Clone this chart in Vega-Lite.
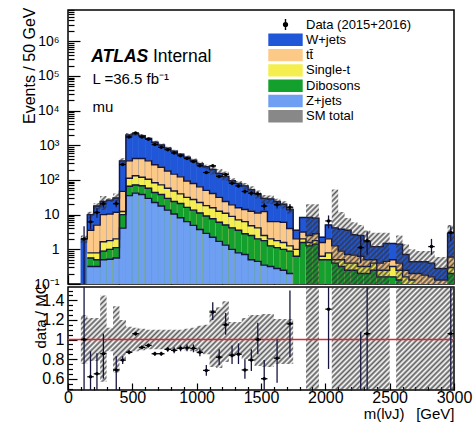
{
"$schema": "https://vega.github.io/schema/vega-lite/v6.json",
"padding": {"left": 20, "top": 2, "right": 2, "bottom": 2},
"bounds": "flush",
"spacing": 3,
"config": {
 "font": "Liberation Sans",
 "view": {"stroke": "#000", "strokeWidth": 1.5},
 "axis": {"grid": false, "domain": false, "labelFont": "Liberation Sans", "labelColor": "#000", "tickColor": "#000", "tickWidth": 1.2, "titleFont": "Liberation Sans", "titleFontWeight": "normal", "titleColor": "#000", "labelOverlap": false, "zindex": 1},
 "area": {"fill": {"gradient": "linear", "x1": 0, "y1": 0, "x2": 1.207, "y2": 0.492, "stops": [
{"offset":0,"color":"#333c"},{"offset":0.005,"color":"#3330"},{"offset":0.01,"color":"#333c"},{"offset":0.015,"color":"#3330"},{"offset":0.02,"color":"#333c"},{"offset":0.025,"color":"#3330"},{"offset":0.03,"color":"#333c"},{"offset":0.035,"color":"#3330"},{"offset":0.04,"color":"#333c"},{"offset":0.045,"color":"#3330"},
{"offset":0.05,"color":"#333c"},{"offset":0.055,"color":"#3330"},{"offset":0.06,"color":"#333c"},{"offset":0.065,"color":"#3330"},{"offset":0.07,"color":"#333c"},{"offset":0.075,"color":"#3330"},{"offset":0.08,"color":"#333c"},{"offset":0.085,"color":"#3330"},{"offset":0.09,"color":"#333c"},{"offset":0.095,"color":"#3330"},
{"offset":0.1,"color":"#333c"},{"offset":0.105,"color":"#3330"},{"offset":0.11,"color":"#333c"},{"offset":0.115,"color":"#3330"},{"offset":0.12,"color":"#333c"},{"offset":0.125,"color":"#3330"},{"offset":0.13,"color":"#333c"},{"offset":0.135,"color":"#3330"},{"offset":0.14,"color":"#333c"},{"offset":0.145,"color":"#3330"},
{"offset":0.15,"color":"#333c"},{"offset":0.155,"color":"#3330"},{"offset":0.16,"color":"#333c"},{"offset":0.165,"color":"#3330"},{"offset":0.17,"color":"#333c"},{"offset":0.175,"color":"#3330"},{"offset":0.18,"color":"#333c"},{"offset":0.185,"color":"#3330"},{"offset":0.19,"color":"#333c"},{"offset":0.195,"color":"#3330"},
{"offset":0.2,"color":"#333c"},{"offset":0.205,"color":"#3330"},{"offset":0.21,"color":"#333c"},{"offset":0.215,"color":"#3330"},{"offset":0.22,"color":"#333c"},{"offset":0.225,"color":"#3330"},{"offset":0.23,"color":"#333c"},{"offset":0.235,"color":"#3330"},{"offset":0.24,"color":"#333c"},{"offset":0.245,"color":"#3330"},
{"offset":0.25,"color":"#333c"},{"offset":0.255,"color":"#3330"},{"offset":0.26,"color":"#333c"},{"offset":0.265,"color":"#3330"},{"offset":0.27,"color":"#333c"},{"offset":0.275,"color":"#3330"},{"offset":0.28,"color":"#333c"},{"offset":0.285,"color":"#3330"},{"offset":0.29,"color":"#333c"},{"offset":0.295,"color":"#3330"},
{"offset":0.3,"color":"#333c"},{"offset":0.305,"color":"#3330"},{"offset":0.31,"color":"#333c"},{"offset":0.315,"color":"#3330"},{"offset":0.32,"color":"#333c"},{"offset":0.325,"color":"#3330"},{"offset":0.33,"color":"#333c"},{"offset":0.335,"color":"#3330"},{"offset":0.34,"color":"#333c"},{"offset":0.345,"color":"#3330"},
{"offset":0.35,"color":"#333c"},{"offset":0.355,"color":"#3330"},{"offset":0.36,"color":"#333c"},{"offset":0.365,"color":"#3330"},{"offset":0.37,"color":"#333c"},{"offset":0.375,"color":"#3330"},{"offset":0.38,"color":"#333c"},{"offset":0.385,"color":"#3330"},{"offset":0.39,"color":"#333c"},{"offset":0.395,"color":"#3330"},
{"offset":0.4,"color":"#333c"},{"offset":0.405,"color":"#3330"},{"offset":0.41,"color":"#333c"},{"offset":0.415,"color":"#3330"},{"offset":0.42,"color":"#333c"},{"offset":0.425,"color":"#3330"},{"offset":0.43,"color":"#333c"},{"offset":0.435,"color":"#3330"},{"offset":0.44,"color":"#333c"},{"offset":0.445,"color":"#3330"},
{"offset":0.45,"color":"#333c"},{"offset":0.455,"color":"#3330"},{"offset":0.46,"color":"#333c"},{"offset":0.465,"color":"#3330"},{"offset":0.47,"color":"#333c"},{"offset":0.475,"color":"#3330"},{"offset":0.48,"color":"#333c"},{"offset":0.485,"color":"#3330"},{"offset":0.49,"color":"#333c"},{"offset":0.495,"color":"#3330"},
{"offset":0.5,"color":"#333c"},{"offset":0.505,"color":"#3330"},{"offset":0.51,"color":"#333c"},{"offset":0.515,"color":"#3330"},{"offset":0.52,"color":"#333c"},{"offset":0.525,"color":"#3330"},{"offset":0.53,"color":"#333c"},{"offset":0.535,"color":"#3330"},{"offset":0.54,"color":"#333c"},{"offset":0.545,"color":"#3330"},
{"offset":0.55,"color":"#333c"},{"offset":0.555,"color":"#3330"},{"offset":0.56,"color":"#333c"},{"offset":0.565,"color":"#3330"},{"offset":0.57,"color":"#333c"},{"offset":0.575,"color":"#3330"},{"offset":0.58,"color":"#333c"},{"offset":0.585,"color":"#3330"},{"offset":0.59,"color":"#333c"},{"offset":0.595,"color":"#3330"},
{"offset":0.6,"color":"#333c"},{"offset":0.605,"color":"#3330"},{"offset":0.61,"color":"#333c"},{"offset":0.615,"color":"#3330"},{"offset":0.62,"color":"#333c"},{"offset":0.625,"color":"#3330"},{"offset":0.63,"color":"#333c"},{"offset":0.635,"color":"#3330"},{"offset":0.64,"color":"#333c"},{"offset":0.645,"color":"#3330"},
{"offset":0.65,"color":"#333c"},{"offset":0.655,"color":"#3330"},{"offset":0.66,"color":"#333c"},{"offset":0.665,"color":"#3330"},{"offset":0.67,"color":"#333c"},{"offset":0.675,"color":"#3330"},{"offset":0.68,"color":"#333c"},{"offset":0.685,"color":"#3330"},{"offset":0.69,"color":"#333c"},{"offset":0.695,"color":"#3330"},
{"offset":0.7,"color":"#333c"},{"offset":0.705,"color":"#3330"},{"offset":0.71,"color":"#333c"},{"offset":0.715,"color":"#3330"},{"offset":0.72,"color":"#333c"},{"offset":0.725,"color":"#3330"},{"offset":0.73,"color":"#333c"},{"offset":0.735,"color":"#3330"},{"offset":0.74,"color":"#333c"},{"offset":0.745,"color":"#3330"},
{"offset":0.75,"color":"#333c"},{"offset":0.755,"color":"#3330"},{"offset":0.76,"color":"#333c"},{"offset":0.765,"color":"#3330"},{"offset":0.77,"color":"#333c"},{"offset":0.775,"color":"#3330"},{"offset":0.78,"color":"#333c"},{"offset":0.785,"color":"#3330"},{"offset":0.79,"color":"#333c"},{"offset":0.795,"color":"#3330"},
{"offset":0.8,"color":"#333c"},{"offset":0.805,"color":"#3330"},{"offset":0.81,"color":"#333c"},{"offset":0.815,"color":"#3330"},{"offset":0.82,"color":"#333c"},{"offset":0.825,"color":"#3330"},{"offset":0.83,"color":"#333c"},{"offset":0.835,"color":"#3330"},{"offset":0.84,"color":"#333c"},{"offset":0.845,"color":"#3330"},
{"offset":0.85,"color":"#333c"},{"offset":0.855,"color":"#3330"},{"offset":0.86,"color":"#333c"},{"offset":0.865,"color":"#3330"},{"offset":0.87,"color":"#333c"},{"offset":0.875,"color":"#3330"},{"offset":0.88,"color":"#333c"},{"offset":0.885,"color":"#3330"},{"offset":0.89,"color":"#333c"},{"offset":0.895,"color":"#3330"},
{"offset":0.9,"color":"#333c"},{"offset":0.905,"color":"#3330"},{"offset":0.91,"color":"#333c"},{"offset":0.915,"color":"#3330"},{"offset":0.92,"color":"#333c"},{"offset":0.925,"color":"#3330"},{"offset":0.93,"color":"#333c"},{"offset":0.935,"color":"#3330"},{"offset":0.94,"color":"#333c"},{"offset":0.945,"color":"#3330"},
{"offset":0.95,"color":"#333c"},{"offset":0.955,"color":"#3330"},{"offset":0.96,"color":"#333c"},{"offset":0.965,"color":"#3330"},{"offset":0.97,"color":"#333c"},{"offset":0.975,"color":"#3330"},{"offset":0.98,"color":"#333c"},{"offset":0.985,"color":"#3330"},{"offset":0.99,"color":"#333c"},{"offset":0.995,"color":"#3330"},
{"offset":1,"color":"#333c"}]}}
},
"datasets": {"bins": [
{"x0":100,"x1":150,"m":125,"W":2,"ul":1.5,"uh":2.5,"bl":0.75,"bh":1.25,"d":2,"dl":0.1,"dh":4.6,"r":1,"rl":0.3,"rh":2},
{"x0":150,"x1":200,"m":175,"W":10,"T":3.55,"S":0.79,"D":0.56,"Z":0.32,"ul":7.8,"uh":12.2,"bl":0.78,"bh":1.22,"d":6.2,"dl":3.8,"dh":9.7,"r":0.62,"rl":0.3,"rh":0.88},
{"x0":200,"x1":250,"m":225,"W":17.8,"T":5,"S":0.79,"D":0.5,"Z":0.32,"ul":13.9,"uh":21.7,"bl":0.78,"bh":1.22,"d":11.6,"dl":8.2,"dh":15.5,"r":0.65,"rl":0.3,"rh":0.86},
{"x0":250,"x1":300,"m":275,"W":24,"T":10,"S":1.66,"D":0.89,"Z":0.5,"ul":13.7,"uh":34.8,"bl":0.57,"bh":1.45,"d":20.5,"dl":16,"dh":25.5,"r":0.855,"rl":0.6,"rh":1.06},
{"x0":300,"x1":350,"m":325,"W":26.3,"T":10.5,"S":1.78,"D":1,"Z":0.52,"ul":23.1,"uh":29.5,"bl":0.88,"bh":1.12},
{"x0":350,"x1":400,"m":375,"W":30.2,"T":11.7,"S":2,"D":1.12,"Z":0.56,"ul":19.9,"uh":40.5,"bl":0.66,"bh":1.34,"d":20.8,"dl":16.4,"dh":26,"r":0.69,"rl":0.3,"rh":0.83},
{"x0":400,"x1":450,"m":425,"W":355,"T":46.8,"S":12.3,"D":10,"Z":4.1,"ul":284,"uh":426,"bl":0.8,"bh":1.2,"d":280,"dl":263,"dh":297,"r":0.79,"rl":0.75,"rh":0.83},
{"x0":450,"x1":500,"m":475,"W":2000,"T":355,"S":112,"D":66,"Z":35.5,"ul":1740,"uh":2260,"bl":0.87,"bh":1.13,"d":1740,"dl":1698,"dh":1782,"r":0.87,"rl":0.85,"rh":0.89},
{"x0":500,"x1":550,"m":525,"W":2140,"T":417,"S":132,"D":72,"Z":41.7,"ul":1883,"uh":2397,"bl":0.88,"bh":1.12,"d":2268,"dl":2220,"dh":2316,"r":1.06,"rl":1.04,"rh":1.08},
{"x0":550,"x1":600,"m":575,"W":1900,"T":417,"S":120,"D":68,"Z":38,"ul":1691,"uh":2109,"bl":0.89,"bh":1.11,"d":1748,"dl":1706,"dh":1790,"r":0.92,"rl":0.9,"rh":0.94},
{"x0":600,"x1":650,"m":625,"W":1585,"T":355,"S":105,"D":57.5,"Z":29.5,"ul":1427,"uh":1744,"bl":0.9,"bh":1.1,"d":1490,"dl":1451,"dh":1529,"r":0.94,"rl":0.92,"rh":0.96},
{"x0":650,"x1":700,"m":675,"W":1230,"T":275,"S":83.2,"D":43.7,"Z":22.4,"ul":1107,"uh":1353,"bl":0.9,"bh":1.1,"d":1052,"dl":1020,"dh":1084,"r":0.855,"rl":0.835,"rh":0.875},
{"x0":700,"x1":750,"m":725,"W":1023,"T":234,"S":72.4,"D":38,"Z":17.8,"ul":921,"uh":1125,"bl":0.9,"bh":1.1,"d":875,"dl":845,"dh":905,"r":0.855,"rl":0.835,"rh":0.875},
{"x0":750,"x1":800,"m":775,"W":832,"T":182,"S":57.5,"D":29.5,"Z":13.5,"ul":749,"uh":915,"bl":0.9,"bh":1.1,"d":749,"dl":722,"dh":776,"r":0.9,"rl":0.875,"rh":0.925},
{"x0":800,"x1":850,"m":825,"W":676,"T":148,"S":47.9,"D":24,"Z":10.5,"ul":608,"uh":744,"bl":0.9,"bh":1.1,"d":602,"dl":577,"dh":627,"r":0.89,"rl":0.86,"rh":0.92},
{"x0":850,"x1":900,"m":875,"W":550,"T":123,"S":39.8,"D":20.9,"Z":8.13,"ul":495,"uh":605,"bl":0.9,"bh":1.1,"d":500,"dl":478,"dh":522,"r":0.91,"rl":0.88,"rh":0.94},
{"x0":900,"x1":950,"m":925,"W":457,"T":93.3,"S":31.6,"D":16.2,"Z":6.31,"ul":407,"uh":507,"bl":0.89,"bh":1.11,"d":418,"dl":398,"dh":438,"r":0.915,"rl":0.88,"rh":0.95},
{"x0":950,"x1":1000,"m":975,"W":372,"T":79.4,"S":27.5,"D":13.5,"Z":4.9,"ul":327,"uh":417,"bl":0.88,"bh":1.12,"d":339,"dl":321,"dh":357,"r":0.91,"rl":0.87,"rh":0.95},
{"x0":1000,"x1":1050,"m":1025,"W":295,"T":63.1,"S":22.4,"D":11.2,"Z":3.72,"ul":254,"uh":336,"bl":0.86,"bh":1.14,"d":257,"dl":241,"dh":273,"r":0.87,"rl":0.83,"rh":0.91},
{"x0":1050,"x1":1100,"m":1075,"W":240,"T":50.1,"S":18.2,"D":9.12,"Z":2.88,"ul":204,"uh":276,"bl":0.85,"bh":1.15,"d":164,"dl":151,"dh":177,"r":0.685,"rl":0.63,"rh":0.74},
{"x0":1100,"x1":1150,"m":1125,"W":200,"T":40.7,"S":15.8,"D":7.59,"Z":2.24,"ul":144,"uh":260,"bl":0.72,"bh":1.3,"d":256,"dl":240,"dh":272,"r":1.28,"rl":1.2,"rh":1.38},
{"x0":1150,"x1":1200,"m":1175,"W":155,"T":31.6,"S":12.6,"D":6.03,"Z":1.7,"ul":110,"uh":206,"bl":0.71,"bh":1.33,"d":127,"dl":116,"dh":138,"r":0.82,"rl":0.74,"rh":0.9},
{"x0":1200,"x1":1250,"m":1225,"W":126,"T":24,"S":11,"D":5.01,"Z":1.32,"ul":97,"uh":175,"bl":0.77,"bh":1.39,"d":145,"dl":133,"dh":157,"r":1.15,"rl":1.05,"rh":1.27},
{"x0":1250,"x1":1300,"m":1275,"W":95.5,"T":19.1,"S":8.91,"D":4.17,"Z":1,"ul":78.3,"uh":112.7,"bl":0.82,"bh":1.18,"d":80,"dl":71,"dh":89,"r":0.84,"rl":0.75,"rh":0.94},
{"x0":1300,"x1":1350,"m":1325,"W":79.4,"T":15.8,"S":7.08,"D":3.55,"Z":0.79,"ul":66.7,"uh":93.7,"bl":0.84,"bh":1.18,"d":67.5,"dl":59.5,"dh":75.5,"r":0.85,"rl":0.75,"rh":0.96},
{"x0":1350,"x1":1400,"m":1375,"W":67.6,"T":14.1,"S":6.31,"D":2.82,"Z":0.71,"ul":54.1,"uh":82.5,"bl":0.8,"bh":1.22,"d":46.6,"dl":39.8,"dh":53.4,"r":0.69,"rl":0.6,"rh":0.8},
{"x0":1400,"x1":1450,"m":1425,"W":52.5,"T":12.6,"S":4.79,"D":2.51,"Z":0.5,"ul":41.5,"uh":65.6,"bl":0.79,"bh":1.25,"d":41.5,"dl":35.1,"dh":47.9,"r":0.79,"rl":0.68,"rh":0.9},
{"x0":1450,"x1":1500,"m":1475,"W":39.8,"T":11.2,"S":4.17,"D":2,"Z":0.45,"ul":29.1,"uh":49.8,"bl":0.73,"bh":1.25,"d":39.8,"dl":33.5,"dh":46.1,"r":1,"rl":0.85,"rh":1.17},
{"x0":1500,"x1":1550,"m":1525,"W":29.5,"T":12.3,"S":2.51,"D":1.78,"Z":0.35,"ul":21.2,"uh":37.2,"bl":0.72,"bh":1.26,"d":17.7,"dl":13.5,"dh":21.9,"r":0.6,"rl":0.4,"rh":0.79},
{"x0":1550,"x1":1600,"m":1575,"W":28.2,"T":6.31,"S":2,"D":1.26,"Z":0.32,"ul":20.3,"uh":35.5,"bl":0.72,"bh":1.26},
{"x0":1600,"x1":1650,"m":1625,"W":24,"T":6.31,"S":1.78,"D":1.12,"Z":0.28,"ul":18,"uh":29,"bl":0.75,"bh":1.21,"d":19.4,"dl":15,"dh":23.8,"r":0.81,"rl":0.56,"rh":1},
{"x0":1650,"x1":1700,"m":1675,"W":20,"T":6.03,"S":1.58,"D":1,"Z":0.25,"ul":15,"uh":24.2,"bl":0.75,"bh":1.21},
{"x0":1700,"x1":1750,"m":1725,"W":14.1,"T":3.98,"S":1.26,"D":0.89,"Z":0.2,"ul":10.6,"uh":17.1,"bl":0.75,"bh":1.21,"d":16.4,"dl":12.4,"dh":20.4,"r":1.16,"rl":0.82,"rh":1.5},
{"x0":1750,"x1":1800,"m":1775,"W":3.55,"T":2,"S":1,"D":0.63},
{"x0":1800,"x1":1850,"m":1825,"W":8.32,"T":3.16,"S":2,"D":1.58},
{"x0":1850,"x1":1900,"m":1875,"W":8.32,"T":2.51,"S":1.58,"D":1.26,"ul":0.1,"uh":20,"bl":0.25,"bh":1.8},
{"x0":1900,"x1":1950,"m":1925,"W":7.94,"T":2.82,"S":1.78,"D":1.41,"ul":0.1,"uh":20,"bl":0.25,"bh":1.8},
{"x0":1950,"x1":2000,"m":1975,"W":2.24,"T":1.58,"S":0.63,"D":0.5},
{"x0":2000,"x1":2050,"m":2025,"W":5.01,"T":2,"S":0.79,"D":0.5,"d":6.6,"dl":4,"dh":9.5,"r":1.31,"rl":0.7,"rh":1.6},
{"x0":2050,"x1":2100,"m":2075,"W":4.17,"T":1.26,"S":0.5,"D":0.4,"ul":0.1,"uh":53,"bl":0.25,"bh":1.8},
{"x0":2100,"x1":2150,"m":2125,"W":3.8,"T":0.89,"S":0.5,"D":0.32,"ul":0.1,"uh":12,"bl":0.25,"bh":1.8},
{"x0":2150,"x1":2200,"m":2175,"W":3.55,"T":0.71,"S":0.4,"D":0.25,"ul":0.1,"uh":8,"bl":0.25,"bh":1.8},
{"x0":2200,"x1":2250,"m":2225,"W":2.63,"T":0.68,"S":0.4,"D":0.25,"ul":0.1,"uh":6,"bl":0.25,"bh":1.8},
{"x0":2250,"x1":2300,"m":2275,"W":2.51,"T":0.63,"S":0.32,"D":0.2,"ul":0.1,"uh":5,"bl":0.25,"bh":1.8,"d":1.13,"dl":0.4,"dh":2.5,"r":0.45,"rl":0.2,"rh":1.08},
{"x0":2300,"x1":2350,"m":2325,"W":1.66,"T":0.5,"S":0.32,"D":0.2,"ul":0.1,"uh":3.5,"bl":0.25,"bh":1.8,"d":1.76,"dl":0.7,"dh":3.3,"r":1.06,"rl":0.2,"rh":2},
{"x0":2350,"x1":2400,"m":2375,"W":1.2,"T":0.5,"S":0.4,"D":0.25,"ul":0.1,"uh":3,"bl":0.25,"bh":1.8},
{"x0":2400,"x1":2450,"m":2425,"W":1.2,"T":0.4,"S":0.25,"D":0.16,"ul":0.1,"uh":3,"bl":0.25,"bh":1.8},
{"x0":2450,"x1":2500,"m":2475,"W":1.48,"T":0.45,"S":0.25,"D":0.16,"ul":0.1,"uh":3,"bl":0.25,"bh":1.8},
{"x0":2500,"x1":2550,"m":2525,"W":1.48,"T":0.5,"S":0.32,"D":0.16},
{"x0":2550,"x1":2600,"m":2575,"W":1.41,"T":0.4,"S":0.25,"D":0.13,"ul":0.1,"uh":2.5,"bl":0.25,"bh":1.8},
{"x0":2600,"x1":2650,"m":2625,"W":0.71,"T":0.25,"S":0.16,"ul":0.1,"uh":1.4,"bl":0.25,"bh":1.8},
{"x0":2650,"x1":2700,"m":2675,"W":0.44,"T":0.2,"S":0.13,"ul":0.1,"uh":1,"bl":0.25,"bh":1.8},
{"x0":2700,"x1":2750,"m":2725,"W":0.44,"T":0.2,"ul":0.1,"uh":0.9,"bl":0.25,"bh":1.8},
{"x0":2750,"x1":2800,"m":2775,"W":0.44,"T":0.18,"ul":0.1,"uh":0.9,"bl":0.25,"bh":1.8},
{"x0":2800,"x1":2850,"m":2825,"W":0.4,"T":0.16,"ul":0.1,"uh":0.9,"bl":0.25,"bh":1.8,"d":1.2,"dl":0.7,"dh":2},
{"x0":2850,"x1":2900,"m":2875,"W":0.28,"T":0.13,"ul":0.1,"uh":0.6,"bl":0.25,"bh":1.8},
{"x0":2900,"x1":2950,"m":2925,"W":0.28,"T":0.13,"ul":0.1,"uh":0.6,"bl":0.25,"bh":1.8},
{"x0":2950,"x1":3000,"m":2975,"W":2.88,"T":0.6,"S":0.3,"D":0.2,"ul":0.1,"uh":5,"bl":0.25,"bh":1.8,"d":3.05,"dl":1.7,"dh":4.6,"r":1.06,"rl":0.2,"rh":2}
]},
"vconcat": [
{
 "width": 386, "height": 274,
 "layer": [
  {
   "data": {"name": "bins"},
   "transform": [{"fold": ["W","T","S","D","Z"], "as": ["proc","top"]}],
   "mark": {"type": "bar", "clip": true, "strokeWidth": 0.6},
   "encoding": {
    "x": {"field": "x0", "type": "quantitative", "scale": {"domain": [0,3000], "nice": false, "zero": false},
     "axis": {"title": null, "labels": false, "values": [0,100,200,300,400,500,600,700,800,900,1000,1100,1200,1300,1400,1500,1600,1700,1800,1900,2000,2100,2200,2300,2400,2500,2600,2700,2800,2900,3000],
      "tickSize": {"condition": {"test": "datum.value % 500 === 0", "value": -9}, "value": -4.5}}},
    "x2": {"field": "x1"},
    "y": {"field": "top", "type": "quantitative", "stack": null, "scale": {"type": "log", "domain": [0.1, 8000000], "nice": false},
     "axis": {"title": "Events / 50 GeV", "labelFontSize": 14, "titleFontSize": 16, "labelOverlap": false,
      "values": [0.1,0.2,0.3,0.4,0.5,0.6,0.7,0.8,0.9,1,2,3,4,5,6,7,8,9,10,20,30,40,50,60,70,80,90,100,200,300,400,500,600,700,800,900,1000,2000,3000,4000,5000,6000,7000,8000,9000,10000,20000,30000,40000,50000,60000,70000,80000,90000,100000,200000,300000,400000,500000,600000,700000,800000,900000,1000000,2000000,3000000,4000000,5000000,6000000,7000000,8000000],
      "labelExpr": "datum.value === 0.1 ? '10⁻¹' : datum.value === 1 ? '1' : datum.value === 10 ? '10' : datum.value === 100 ? '10²' : datum.value === 1000 ? '10³' : datum.value === 10000 ? '10⁴' : datum.value === 100000 ? '10⁵' : datum.value === 1000000 ? '10⁶' : ''",
      "tickSize": {"condition": {"test": "indexof([0.1,1,10,100,1000,10000,100000,1000000], datum.value) >= 0", "value": -12}, "value": -6},
      "labelPadding": 21,
      "titleX": -34, "titleY": -3, "titleAlign": "right", "titleAngle": -90, "titleBaseline": "alphabetic"}},
    "y2": {"datum": 0.1},
    "color": {"field": "proc", "type": "nominal",
     "scale": {"domain": ["data","W","T","S","D","Z","band"], "range": ["#000000","#2057d9","#fcc987","#f4ef4f","#13a02c","#6e9ff2","#888888"]},
     "legend": {"orient": "none", "legendX": 211, "legendY": 8, "title": null,
      "labelExpr": "datum.value === 'data' ? 'Data (2015+2016)' : datum.value === 'W' ? 'W+jets' : datum.value === 'T' ? 'tt\u0304' : datum.value === 'S' ? 'Single-t' : datum.value === 'D' ? 'Dibosons' : datum.value === 'Z' ? 'Z+jets' : 'SM total'",
      "labelFont": "Liberation Sans", "labelFontSize": 13, "labelColor": "#000", "labelLimit": 300,
      "symbolSize": 121, "rowPadding": -1.7, "labelOffset": 14,
      "encode": {"symbols": {"update": {
       "shape": [{"test": "datum.value === 'data'", "value": "M0,-1V1M-0.35,0A0.35,0.35 0 1,0 0.35,0A0.35,0.35 0 1,0 -0.35,0Z"}, {"value": "M-3,-1H3V1H-3Z"}],
       "fill": [{"test": "datum.value === 'band'", "value": {"gradient": "linear", "x1": 0, "y1": 0, "x2": 1.2, "y2": 0.4, "stops": [
         {"offset":0,"color":"#333c"},{"offset":0.0625,"color":"#3330"},{"offset":0.125,"color":"#333c"},{"offset":0.1875,"color":"#3330"},{"offset":0.25,"color":"#333c"},{"offset":0.3125,"color":"#3330"},{"offset":0.375,"color":"#333c"},{"offset":0.4375,"color":"#3330"},{"offset":0.5,"color":"#333c"},{"offset":0.5625,"color":"#3330"},{"offset":0.625,"color":"#333c"},{"offset":0.6875,"color":"#3330"},{"offset":0.75,"color":"#333c"},{"offset":0.8125,"color":"#3330"},{"offset":0.875,"color":"#333c"},{"offset":0.9375,"color":"#3330"},{"offset":1,"color":"#333c"}]}},
        {"test": "datum.value === 'data'", "value": "#000"},
        {"test": "datum.value === 'W'", "value": "#2057d9"},
        {"test": "datum.value === 'T'", "value": "#fcc987"},
        {"test": "datum.value === 'S'", "value": "#f4ef4f"},
        {"test": "datum.value === 'D'", "value": "#13a02c"},
        {"value": "#6e9ff2"}],
       "stroke": [{"test": "datum.value === 'data'", "value": "#000"}, {"value": "#1a1a55"}],
       "strokeWidth": {"value": 1.4},
       "opacity": {"value": 1}
      }}}}},
    "stroke": {"field": "proc", "type": "nominal", "legend": null,
     "scale": {"domain": ["data","W","T","S","D","Z","band"], "range": ["#000000","#2057d9","#fcc987","#f4ef4f","#13a02c","#6e9ff2","#888888"]}}
   }
  },
  {
   "data": {"name": "bins"},
   "transform": [{"fold": ["W","T","S","D","Z"], "as": ["proc","top"]}, {"fold": ["x0","x1"], "as": ["edge","ex"]}],
   "mark": {"type": "line", "color": "#15153f", "strokeWidth": 1.4, "clip": true, "invalid": "break-paths-show-domains"},
   "encoding": {
    "x": {"field": "ex", "type": "quantitative"},
    "y": {"field": "top", "type": "quantitative"},
    "detail": {"field": "proc"},
    "order": [{"field": "x0", "type": "quantitative"}, {"field": "edge", "type": "ordinal"}]
   }
  },
  {
   "data": {"name": "bins"},
   "transform": [{"fold": ["x0","x1"], "as": ["edge","ex"]}],
   "mark": {"type": "area", "clip": true, "invalid": "break-paths-show-domains"},
   "encoding": {
    "x": {"field": "ex", "type": "quantitative"},
    "y": {"field": "ul", "type": "quantitative"},
    "y2": {"field": "uh"}
   }
  },
  {
   "data": {"name": "bins"},
   "mark": {"type": "rule", "color": "#15153f", "strokeWidth": 1.3, "clip": true},
   "encoding": {"x": {"field": "m", "type": "quantitative"}, "y": {"field": "dl", "type": "quantitative"}, "y2": {"field": "dh"}}
  },
  {
   "data": {"name": "bins"},
   "mark": {"type": "rule", "color": "#000", "strokeWidth": 1.3, "clip": true},
   "encoding": {"x": {"field": "x0", "type": "quantitative"}, "x2": {"field": "x1"}, "y": {"field": "d", "type": "quantitative"}}
  },
  {
   "data": {"name": "bins"},
   "mark": {"type": "circle", "color": "#000", "opacity": 1, "size": 12, "clip": true},
   "encoding": {"x": {"field": "m", "type": "quantitative"}, "y": {"field": "d", "type": "quantitative"}}
  },
  {
   "data": {"values": [{}]},
   "mark": {"type": "text", "text": "ATLAS", "font": "Liberation Sans", "fontSize": 17.5, "fontStyle": "italic", "fontWeight": "bold", "align": "left", "baseline": "alphabetic", "color": "#000"},
   "encoding": {"x": {"datum": 180}, "y": {"datum": 253000}}
  },
  {
   "data": {"values": [{}]},
   "mark": {"type": "text", "text": "Internal", "font": "Liberation Sans", "fontSize": 17.5, "align": "left", "baseline": "alphabetic", "color": "#000"},
   "encoding": {"x": {"datum": 660}, "y": {"datum": 253000}}
  },
  {
   "data": {"values": [{}]},
   "mark": {"type": "text", "text": "L =36.5 fb⁻¹", "font": "Liberation Sans", "fontSize": 15, "align": "left", "baseline": "alphabetic", "color": "#000"},
   "encoding": {"x": {"datum": 190}, "y": {"datum": 58700}}
  },
  {
   "data": {"values": [{}]},
   "mark": {"type": "text", "text": "mu", "font": "Liberation Sans", "fontSize": 15, "align": "left", "baseline": "alphabetic", "color": "#000"},
   "encoding": {"x": {"datum": 190}, "y": {"datum": 9100}}
  }
 ]
},
{
 "width": 386, "height": 103,
 "resolve": {"axis": {"x": "independent", "y": "independent"}},
 "layer": [
  {
   "data": {"name": "bins"},
   "transform": [{"fold": ["x0","x1"], "as": ["edge","ex"]}],
   "mark": {"type": "area", "clip": true, "invalid": "break-paths-show-domains"},
   "encoding": {
    "x": {"field": "ex", "type": "quantitative", "scale": {"domain": [0,3000], "nice": false, "zero": false},
     "axis": {"orient": "bottom", "title": "m(lνJ)\u2002 [GeV]", "titleFontSize": 15, "labelFontSize": 16, "format": "d",
      "values": [0,500,1000,1500,2000,2500,3000],
      "tickSize": -7, "labelPadding": 6, "labelFlush": false,
      "titleX": 386, "titleY": 28, "titleAlign": "right", "titleBaseline": "alphabetic", "titleAngle": 0}},
    "y": {"field": "bl", "type": "quantitative", "scale": {"domain": [0.485, 1.536], "nice": false, "zero": false},
     "axis": {"orient": "left", "title": "data / MC", "titleFontSize": 15, "labelFontSize": 16, "format": "~g",
      "values": [0.6,0.8,1,1.2,1.4],
      "tickSize": -9, "labelPadding": 13,
      "titleX": -23, "titleY": -4, "titleAlign": "right", "titleAngle": -90, "titleBaseline": "alphabetic"}},
    "y2": {"field": "bh"}
   }
  },
  {
   "data": {"values": [{}]},
   "mark": {"type": "rule", "color": "#e0262b", "strokeWidth": 1.6},
   "encoding": {"y": {"datum": 1, "axis": null}}
  },
  {
   "data": {"name": "bins"},
   "mark": {"type": "rule", "color": "#15153f", "strokeWidth": 1.3, "clip": true},
   "encoding": {
    "x": {"field": "m", "type": "quantitative", "axis": {"orient": "bottom", "title": null, "labels": false, "tickSize": -3.5,
      "values": [100,200,300,400,600,700,800,900,1100,1200,1300,1400,1600,1700,1800,1900,2100,2200,2300,2400,2600,2700,2800,2900]}},
    "y": {"field": "rl", "type": "quantitative", "axis": {"orient": "left", "title": null, "labels": false, "tickSize": -4.5,
      "values": [0.5,0.55,0.65,0.7,0.75,0.85,0.9,0.95,1.05,1.1,1.15,1.25,1.3,1.35,1.45,1.5]}},
    "y2": {"field": "rh"}
   }
  },
  {
   "data": {"name": "bins"},
   "mark": {"type": "rule", "color": "#000", "strokeWidth": 1.3, "clip": true},
   "encoding": {"x": {"field": "x0", "type": "quantitative", "axis": null}, "x2": {"field": "x1"}, "y": {"field": "r", "type": "quantitative", "axis": null}}
  },
  {
   "data": {"name": "bins"},
   "mark": {"type": "circle", "color": "#000", "opacity": 1, "size": 12, "clip": true},
   "encoding": {"x": {"field": "m", "type": "quantitative", "axis": null}, "y": {"field": "r", "type": "quantitative", "axis": null}}
  }
 ]
}
]
}
